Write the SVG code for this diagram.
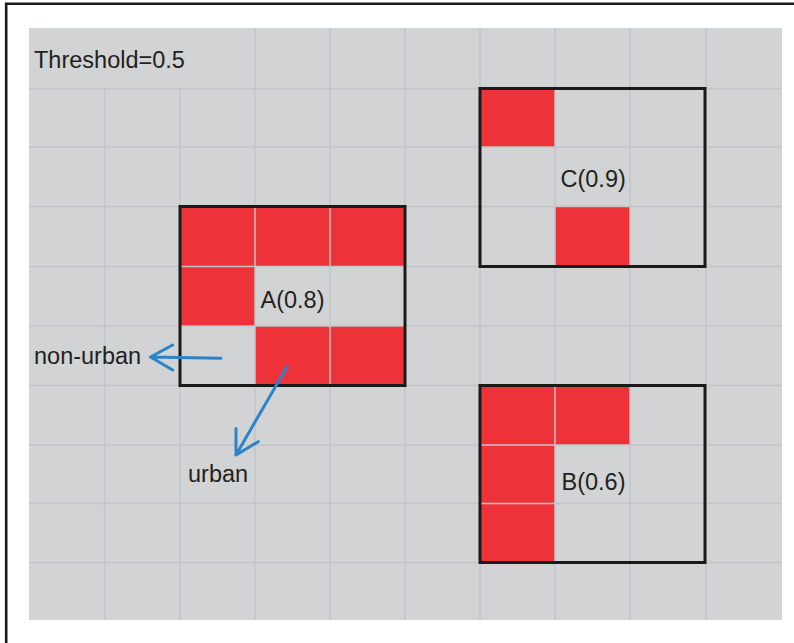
<svg xmlns="http://www.w3.org/2000/svg" width="794" height="643" viewBox="0 0 794 643">
<style>
.bg{fill:#D1D3D5}
.red{fill:#EE3239}
.grid{stroke:#C3C5C8;stroke-width:1.5;fill:none}
.box{fill:none;stroke:#1A1A1A;stroke-width:3}
.lbl{font-family:"Liberation Sans",Arial,sans-serif;font-size:23.5px;fill:#231F20}
.arr{fill:none;stroke:#2C84C8;stroke-width:3;stroke-linecap:round;stroke-linejoin:round}
</style>
<rect width="794" height="643" fill="#FFFFFF"/>
<g id="frame">
<path d="M6.2 643 V3.8 H794" fill="none" stroke="#1A1A1A" stroke-width="2.6"/>
</g>
<g id="grid">
<rect class="bg" x="29" y="28" width="753" height="592"/>
<g id="red-cells">
<rect class="red" x="180" y="206.5" width="225" height="60"/>
<rect class="red" x="180" y="266.5" width="75" height="59.5"/>
<rect class="red" x="255" y="326" width="150" height="59.5"/>
<rect class="red" x="480" y="88.5" width="75" height="58.5"/>
<rect class="red" x="555" y="206.5" width="75" height="60"/>
<rect class="red" x="480" y="385.5" width="150" height="59.5"/>
<rect class="red" x="480" y="445" width="75" height="117.5"/>
</g>
<path class="grid" d="M29 88.5H782M29 147H782M29 206.5H782M29 266.5H782M29 326H782M29 385.5H782M29 445H782M29 503.5H782M29 562.5H782M104.5 88.5V620M180 88.5V620M255 28V620M330 28V620M405 28V620M480 28V620M555 28V620M630 28V620M706 28V620"/>
</g>
<g id="nodeA">
<rect class="box" x="180" y="206.5" width="225" height="179"/>
<text class="lbl" x="260.5" y="308">A(0.8)</text>
</g>
<g id="nodeC">
<rect class="box" x="480" y="88.5" width="225" height="178"/>
<text class="lbl" x="560.5" y="187">C(0.9)</text>
</g>
<g id="nodeB">
<rect class="box" x="480" y="385.5" width="225" height="177"/>
<text class="lbl" x="561.5" y="490">B(0.6)</text>
</g>
<g id="threshold">
<text class="lbl" x="34" y="68">Threshold=0.5</text>
</g>
<g id="label-nonurban">
<text class="lbl" x="34" y="364">non-urban</text>
</g>
<g id="label-urban">
<text class="lbl" x="188" y="481.5">urban</text>
</g>
<g id="connectors">
<path class="arr" d="M221 358.3L150.5 357M172.7 345L150.5 357L172.7 370"/>
<path class="arr" d="M287 366.7L236 455M236 428.5L236 455L258.3 441.7"/>
</g>
</svg>
